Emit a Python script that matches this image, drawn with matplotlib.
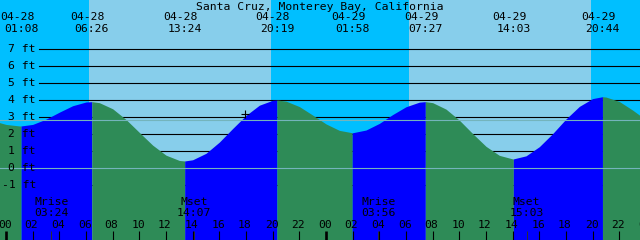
import numpy as np
import matplotlib
matplotlib.use('Agg')
import matplotlib.pyplot as plt
import matplotlib.transforms as mtransforms

title = 'Santa Cruz, Monterey Bay, California'

# tide height (ft) every hour, hour 0 = 04-28 00:00
hours = list(range(-1, 49))
heights = [2.80, 2.58, 2.49, 2.58, 2.89, 3.30, 3.68, 3.90, 3.86, 3.50,
           2.87, 2.11, 1.36, 0.77, 0.46, 0.50, 0.88, 1.54, 2.34, 3.11,
           3.71, 4.00, 3.95, 3.63, 3.13, 2.61, 2.23, 2.09, 2.25, 2.64,
           3.16, 3.62, 3.89, 3.86, 3.48, 2.83, 2.04, 1.29, 0.76, 0.55,
           0.73, 1.27, 2.04, 2.90, 3.64, 4.10, 4.19, 3.93, 3.42, 2.85]

# high / low water
extreme_stamps = ['04-28 01:08', '04-28 06:26', '04-28 13:24', '04-28 20:19',
                  '04-29 01:58', '04-29 07:27', '04-29 14:03', '04-29 20:44']
extreme_kind = ['L', 'H', 'L', 'H', 'L', 'H', 'L', 'H']
extreme_heights = [2.49, 3.92, 0.43, 4.02, 2.09, 3.92, 0.55, 4.21]

sunrise = ['04-28 06:13', '04-29 06:13']
sunset = ['04-28 19:53', '04-29 19:53']

moon_names = ['Mrise', 'Mset', 'Mrise', 'Mset']
moon_stamps = ['04-28 03:24', '04-28 14:07', '04-29 03:56', '04-29 15:03']

ft_levels = list(range(-1, 8))
msl = 2.82
mark_stamp = '04-28 17:56'
mark_height = 3.18

night_col = '#00BFFF'
day_col = '#87CEEB'
flood_col = '#0000FF'
ebb_col = '#2E8B57'
msl_col = '#74b4bc'
mono = 'DejaVu Sans Mono'
fs = 8.2


def to_hours(stamp):
    day, clock = stamp.split()
    hh, mm = clock.split(':')
    return (int(day[3:]) - 28) * 24 + int(hh) + int(mm) / 60.0


def ypix(p):
    # pixel row from the top -> axes fraction
    return 1 - p / 240.0


t_ext = [to_hours(s) for s in extreme_stamps]
t_all = np.array(hours + t_ext, dtype=float)
h_all = np.array(heights + extreme_heights, dtype=float)
order = np.argsort(t_all)
t_all = t_all[order]
h_all = h_all[order]

t_left, t_right = -0.45, 47.55

fig = plt.figure(figsize=(6.4, 2.4), dpi=100)
ax = fig.add_axes([0, 0, 1, 1])
ax.set_xlim(t_left, t_right)
ax.set_ylim(-4.22, 9.90)
ax.set_facecolor(night_col)
for s in ax.spines.values():
    s.set_visible(False)
ax.set_xticks([])
ax.set_yticks([])

for a, b in zip(sunrise, sunset):
    ax.axvspan(to_hours(a), to_hours(b), color=day_col, lw=0, zorder=0)

for lev in ft_levels:
    ax.axhline(lev, xmin=39 / 640.0, xmax=1, color='black', lw=0.8, zorder=1)

# water: blue while rising (flood), green while falling (ebb)
bounds = [t_all[0]] + t_ext + [t_all[-1]]
n = len(t_ext)
for i in range(n + 1):
    a, b = bounds[i], bounds[i + 1]
    m = (t_all >= a) & (t_all <= b)
    if i < n:
        rising = extreme_kind[i] == 'H'
    else:
        rising = extreme_kind[-1] == 'L'
    ax.fill_between(t_all[m], -5, h_all[m], color=flood_col if rising else ebb_col,
                    lw=0, antialiased=False, zorder=2)

ax.axhline(msl, color=msl_col, lw=0.8, zorder=3)
ax.axhline(0, color=msl_col, lw=0.8, zorder=3)

ax.plot([to_hours(mark_stamp)], [mark_height], marker='+', color='black',
        ms=6, mew=0.8, zorder=4)

trans = mtransforms.blended_transform_factory(ax.transData, ax.transAxes)

for lev in ft_levels:
    ax.text(36 / 640.0, lev, '%d ft' % lev, transform=ax.get_yaxis_transform(),
            ha='right', va='center', family=mono, fontsize=fs, zorder=5)

ax.text(0.5, ypix(6.5), title, transform=ax.transAxes,
        ha='center', va='center', family=mono, fontsize=fs, zorder=5)

for s, t in zip(extreme_stamps, t_ext):
    day, clock = s.split()
    ax.text(t - 0.3, ypix(17.5), day, transform=trans, ha='center', va='center',
            family=mono, fontsize=fs, zorder=5)
    ax.text(t, ypix(29), clock, transform=trans, ha='center', va='center',
            family=mono, fontsize=fs, zorder=5)

for name, s in zip(moon_names, moon_stamps):
    t = to_hours(s)
    ax.text(t, ypix(202), name, transform=trans, ha='center', va='center',
            family=mono, fontsize=fs, zorder=5)
    ax.text(t, ypix(213), s.split()[1], transform=trans, ha='center', va='center',
            family=mono, fontsize=fs, zorder=5)
    ax.vlines(t, 0, 9 / 240.0, transform=trans, color='#303030', lw=0.7, zorder=5)

for hr in range(0, 50, 2):
    ax.text(hr - 0.08, ypix(225.5), '%02d' % (hr % 24), transform=trans,
            ha='center', va='center', family=mono, fontsize=fs, zorder=5)
    lw = 1.9 if hr % 24 == 0 else 0.8
    ax.vlines(hr, 0, 9 / 240.0, transform=trans, color='black', lw=lw, zorder=5)

fig.savefig('out.png', dpi=100)
